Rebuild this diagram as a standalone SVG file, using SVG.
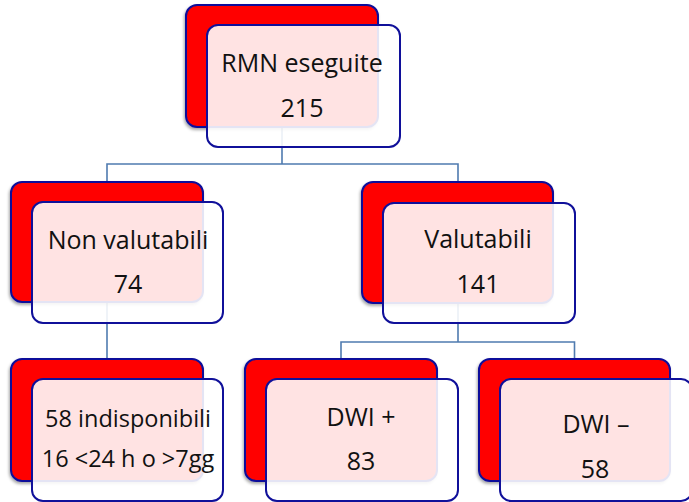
<svg xmlns="http://www.w3.org/2000/svg" width="689" height="502" viewBox="0 0 689 502">
<style>
.back{fill:#ff0000;stroke:#10109a;stroke-width:2;filter:url(#sh)}
.front{fill:#ffffff;fill-opacity:0.89;stroke:#10109a;stroke-width:2}
.t{font-family:"Open Sans","Noto Sans",sans-serif;font-size:25px;fill:#111;text-anchor:middle}
.s{font-size:23.5px}
.conn{fill:none;stroke:#4f7bb0;stroke-width:1.6}
</style>
<defs>
<filter id="sh" x="-10%" y="-10%" width="120%" height="125%">
<feDropShadow dx="-1" dy="2" stdDeviation="1.5" flood-color="#000" flood-opacity="0.35"/>
</filter>
</defs>
<rect width="689" height="502" fill="#fff"/>
<g id="connectors">
<path class="conn" d="M282,127 V164 H107 V182 M282,164 H458 V182"/>
<path class="conn" d="M107,302 V359"/>
<path class="conn" d="M458,303 V342 H341 V359 M458,342 H574.5 V359"/>
</g>
<g id="n-rmn">
<rect class="back" x="186" y="5" width="192" height="122" rx="11"/>
<rect class="front" x="207" y="25" width="193" height="122" rx="11"/>
<text class="t" x="302" y="72">RMN eseguite</text>
<text class="t" x="302" y="117">215</text>
</g>
<g id="n-nonval">
<rect class="back" x="11" y="182" width="192" height="120" rx="11"/>
<rect class="front" x="32" y="202" width="191" height="121" rx="11"/>
<text class="t" x="128" y="249">Non valutabili</text>
<text class="t" x="128" y="293">74</text>
</g>
<g id="n-val">
<rect class="back" x="362" y="182" width="191" height="121" rx="11"/>
<rect class="front" x="383" y="203" width="192" height="120" rx="11"/>
<text class="t" x="478" y="248">Valutabili</text>
<text class="t" x="478" y="293">141</text>
</g>
<g id="n-indisp">
<rect class="back" x="11" y="359" width="192" height="122" rx="11"/>
<rect class="front" x="32" y="379" width="191" height="122" rx="11"/>
<text class="t s" x="128" y="427">58 indisponibili</text>
<text class="t s" x="128" y="467">16 &lt;24 h o &gt;7gg</text>
</g>
<g id="n-dwipos">
<rect class="back" x="245" y="359" width="192" height="122" rx="11"/>
<rect class="front" x="266" y="379" width="192" height="122" rx="11"/>
<text class="t" x="361" y="426">DWI +</text>
<text class="t" x="361" y="470">83</text>
</g>
<g id="n-dwineg">
<rect class="back" x="479" y="359" width="191" height="122" rx="11"/>
<rect class="front" x="500" y="379" width="192" height="122" rx="11"/>
<text class="t" x="596" y="433">DWI –</text>
<text class="t" x="595" y="478">58</text>
</g>
</svg>
